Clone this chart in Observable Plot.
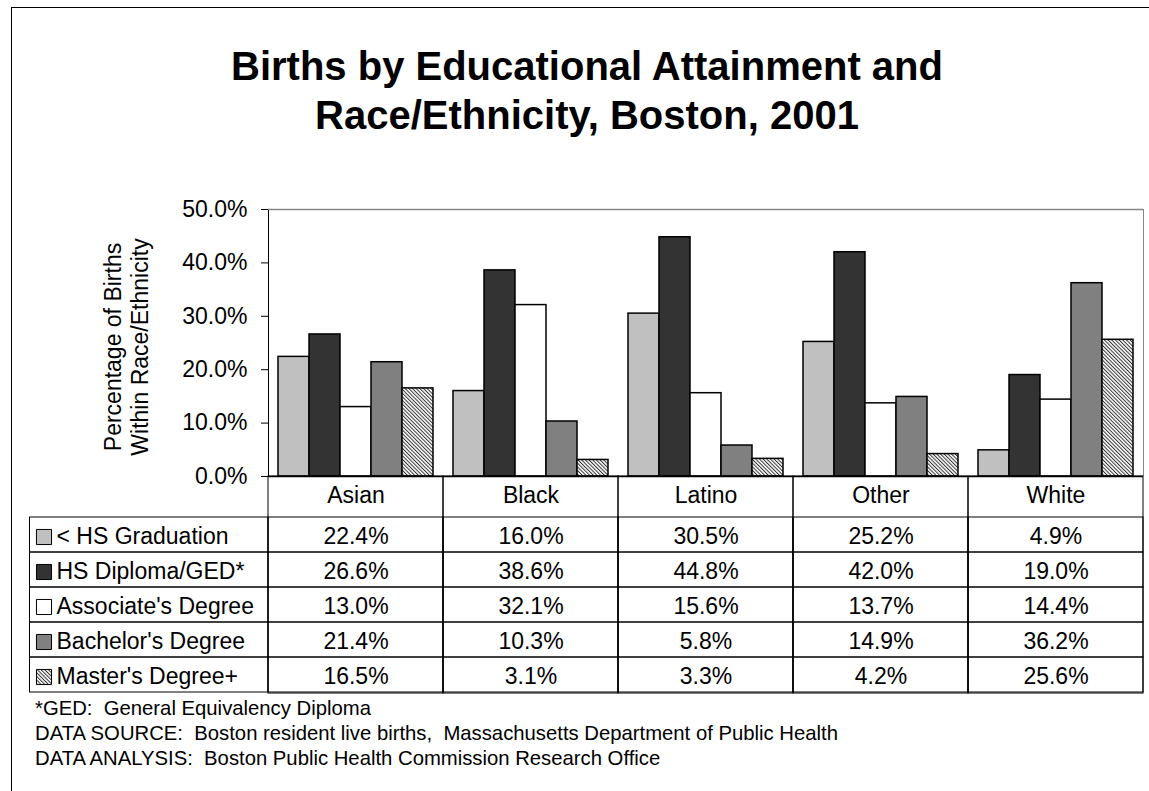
<!DOCTYPE html>
<html>
<head>
<meta charset="utf-8">
<script src="https://cdn.jsdelivr.net/npm/d3@7"></script>
<script src="https://cdn.jsdelivr.net/npm/@observablehq/plot@0.6"></script>
<style>
html, body { margin: 0; padding: 0; background: #fff; overflow: hidden; }
#page { position: relative; width: 1149px; height: 791px; overflow: hidden; font-family: "Liberation Sans", Arial, sans-serif; color: #000; }
#border { position: absolute; left: 11px; top: 7px; width: 3000px; height: 3000px; border: 1.5px solid #000; box-sizing: border-box; }
#title { position: absolute; left: 0; top: 42px; width: 1174px; text-align: center; font-weight: bold; font-size: 40px; line-height: 49px; }
#ylabel { position: absolute; left: -3.5px; top: 320px; width: 260px; height: 54px; line-height: 27px; font-size: 23px; text-align: center; transform: rotate(-90deg); transform-origin: 50% 50%; }
#bars { position: absolute; left: 0; top: 190px; }
#table { position: absolute; left: 0; top: 476px; }
#rightEdge { position: absolute; left: 1142.5px; top: 209px; width: 0; height: 267px; border-left: 1.5px solid #888; }
#notes { position: absolute; left: 35px; top: 696px; font-size: 20.3px; line-height: 25px; white-space: pre; }
</style>
</head>
<body>
<svg width="0" height="0" style="position:absolute">
  <defs>
    <pattern id="hatch" patternUnits="userSpaceOnUse" width="2.6" height="2.6" patternTransform="rotate(-45)">
      <rect width="2.6" height="2.6" fill="#fff"></rect>
      <rect width="1" height="2.6" fill="#333"></rect>
    </pattern>
  </defs>
</svg>
<div id="page">
  <div id="border"></div>
  <div id="title">Births by Educational Attainment and<br>Race/Ethnicity, Boston, 2001</div>
  <div id="ylabel">Percentage of Births<br>Within Race/Ethnicity</div>
  <div id="bars"></div>
  <div id="rightEdge"></div>
  <div id="table"></div>
  <div id="notes"></div>
</div>
<script>
// ---- data ----
const races = ["Asian", "Black", "Latino", "Other", "White"];
const levels = ["< HS Graduation", "HS Diploma/GED*", "Associate's Degree", "Bachelor's Degree", "Master's Degree+"];
const ltHS      = [22.4, 16.0, 30.5, 25.2, 4.9];
const hsDiploma = [26.6, 38.6, 44.8, 42.0, 19.0];
const associate = [13.0, 32.1, 15.6, 13.7, 14.4];
const bachelor  = [21.4, 10.3, 5.8, 14.9, 36.2];
const masters   = [16.5, 3.1, 3.3, 4.2, 25.6];
const yTicks = [0, 10, 20, 30, 40, 50];
const footnotes = [
  "*GED:  General Equivalency Diploma",
  "DATA SOURCE:  Boston resident live births,  Massachusetts Department of Public Health",
  "DATA ANALYSIS:  Boston Public Health Commission Research Office"
];
const fills = ["#c0c0c0", "#333333", "#ffffff", "#808080", "url(#hatch)"];

// ---- build ----
const series = [ltHS, hsDiploma, associate, bachelor, masters];
const data = levels.flatMap((level, i) => races.map((race, j) => ({race, level, value: series[i][j]})));
const pct = d => d.toFixed(1) + "%";
const color = {type: "ordinal", domain: levels, range: fills};
const style = {fontFamily: '"Liberation Sans", Arial, sans-serif', fontSize: "23px", background: "transparent", overflow: "visible", color: "#000"};

const bars = Plot.plot({
  width: 1149, height: 298,
  marginLeft: 268, marginRight: 6, marginTop: 19, marginBottom: 12,
  style,
  fx: {domain: races, padding: 0, axis: null},
  x: {domain: levels, paddingInner: 0, paddingOuter: 0.25, axis: null},
  y: {domain: [0, 50], ticks: yTicks, tickFormat: pct, tickSize: 7, tickPadding: 14, label: null, line: true},
  color,
  marks: [
    Plot.ruleY([50], {stroke: "#888", strokeWidth: 1.5}),
    Plot.barY(data, {fx: "race", x: "level", y: "value", fill: "level", stroke: "#000", strokeWidth: 1.5}),
    Plot.ruleY([0], {stroke: "#000", strokeWidth: 1.5})
  ]
});
document.getElementById("bars").append(bars);

const table = Plot.plot({
  width: 1149, height: 218,
  marginLeft: 268, marginRight: 6, marginTop: 39, marginBottom: 1,
  style,
  x: {domain: races, padding: 0, axis: null},
  y: {domain: levels, padding: 0, axis: null},
  color,
  marks: [
    Plot.cell(races, {x: d => d, fill: "none", stroke: "#000", insetTop: -39}),
    Plot.cell(data, {x: "race", y: "level", fill: "none", stroke: "#000"}),
    Plot.cell(levels, {y: d => d, fill: "none", stroke: "#000", insetLeft: -238.5, insetRight: 875}),
    Plot.text(races, {x: d => d, text: d => d, frameAnchor: "top", lineAnchor: "middle", dy: -20, fill: "#000"}),
    Plot.text(data, {x: "race", y: "level", text: d => pct(d.value), dy: 2, fill: "#000"}),
    Plot.dot(levels, {y: d => d, frameAnchor: "left", dx: -224.5, dy: 2, symbol: "square", r: 8.5, fill: d => d, stroke: "#000", strokeWidth: 1}),
    Plot.text(levels, {y: d => d, text: d => d, frameAnchor: "left", lineAnchor: "middle", dx: -212, textAnchor: "start", dy: 2, fill: "#000"})
  ]
});
document.getElementById("table").append(table);

document.getElementById("notes").textContent = footnotes.join("\n");
</script>
</body>
</html>
